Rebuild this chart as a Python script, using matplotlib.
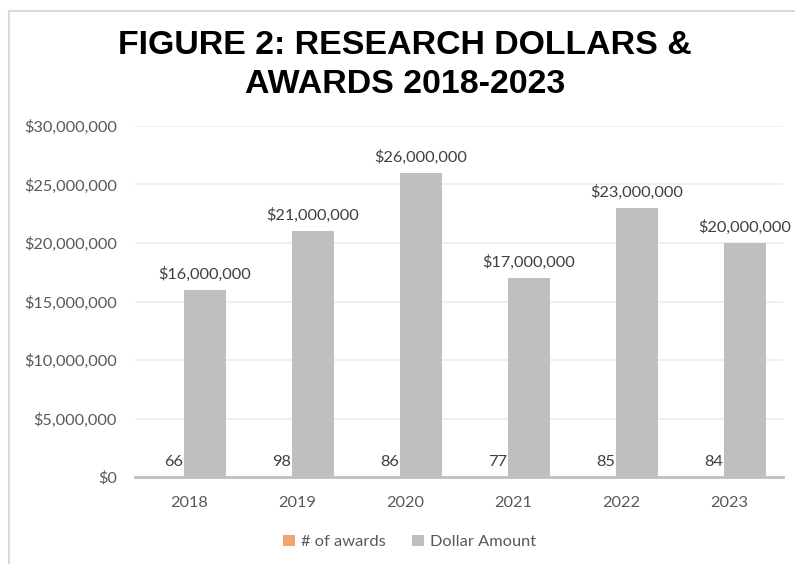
import matplotlib
import numpy as np

matplotlib.use("Agg")
import matplotlib.pyplot as plt  # noqa: E402
from matplotlib.lines import Line2D  # noqa: E402
from matplotlib.ticker import FuncFormatter  # noqa: E402

years = ["2018", "2019", "2020", "2021", "2022", "2023"]
num_awards = [66, 98, 86, 77, 85, 84]
dollar_amount = [16_000_000, 21_000_000, 26_000_000, 17_000_000, 23_000_000, 20_000_000]

TEXT = "#595959"
GRAY = "#bfbfbf"
ORANGE = "#f4a46f"
FS = 11.8

plt.rcParams["font.family"] = ["Lato", "DejaVu Sans"]

fig = plt.figure(figsize=(7.95, 5.64), dpi=100)
ax = fig.add_axes([135 / 795, 1 - 477 / 564, 648 / 795, 351 / 564])

x = np.arange(len(years))
w = 0.39
off = 0.146  # bars overlap a little within each year
b1 = ax.bar(x - off, num_awards, w, color=ORANGE, label="# of awards")
b2 = ax.bar(x + off, dollar_amount, w, color=GRAY, label="Dollar Amount")

for rect, v in zip(b1, num_awards):
    ax.annotate(f"{v}", (rect.get_x() + rect.get_width() / 2, v),
                xytext=(0, 6), textcoords="offset points",
                ha="center", va="bottom", fontsize=FS, color="#404040")
for rect, v in zip(b2, dollar_amount):
    ax.annotate(f"${v:,.0f}", (rect.get_x() + rect.get_width() / 2, v),
                xytext=(0, 6), textcoords="offset points",
                ha="center", va="bottom", fontsize=FS, color="#404040")

ax.set_xlim(-0.5, len(years) - 0.5)
ax.set_ylim(0, 30_000_000)
ax.set_yticks(np.arange(0, 30_000_001, 5_000_000))
ax.yaxis.set_major_formatter(FuncFormatter(lambda v, _: f"${v:,.0f}"))
ax.set_xticks(x)
ax.set_xticklabels(years)
ax.tick_params(axis="both", length=0, labelsize=FS, labelcolor=TEXT)
ax.tick_params(axis="x", pad=14)
ax.tick_params(axis="y", pad=13)

ax.grid(axis="y", color="#ececec", linewidth=1.2)
ax.set_axisbelow(True)
for s in ["top", "right", "left"]:
    ax.spines[s].set_visible(False)
ax.spines["bottom"].set_color(GRAY)
ax.spines["bottom"].set_linewidth(2)

fig.text(405 / 795, 1 - 65 / 564, "FIGURE 2: RESEARCH DOLLARS &\nAWARDS 2018-2023",
         ha="center", va="center", fontsize=24.4, fontweight="bold",
         family="Liberation Sans", color="#000000", linespacing=1.3)

ax.legend(loc="center", bbox_to_anchor=(410 / 795, 1 - 542 / 564),
          bbox_transform=fig.transFigure, ncol=2, frameon=False,
          fontsize=FS, labelcolor=TEXT, handlelength=0.7, handleheight=0.7,
          handletextpad=0.4, columnspacing=1.6)

# light frame along the left and top edges
fig.add_artist(Line2D([8.5 / 795, 8.5 / 795], [0, 1 - 11 / 564],
                      transform=fig.transFigure, color="#d9d9d9", linewidth=1.5))
fig.add_artist(Line2D([8.5 / 795, 1], [1 - 11 / 564, 1 - 11 / 564],
                      transform=fig.transFigure, color="#d9d9d9", linewidth=1.5))

fig.savefig("out.png", dpi=100)
